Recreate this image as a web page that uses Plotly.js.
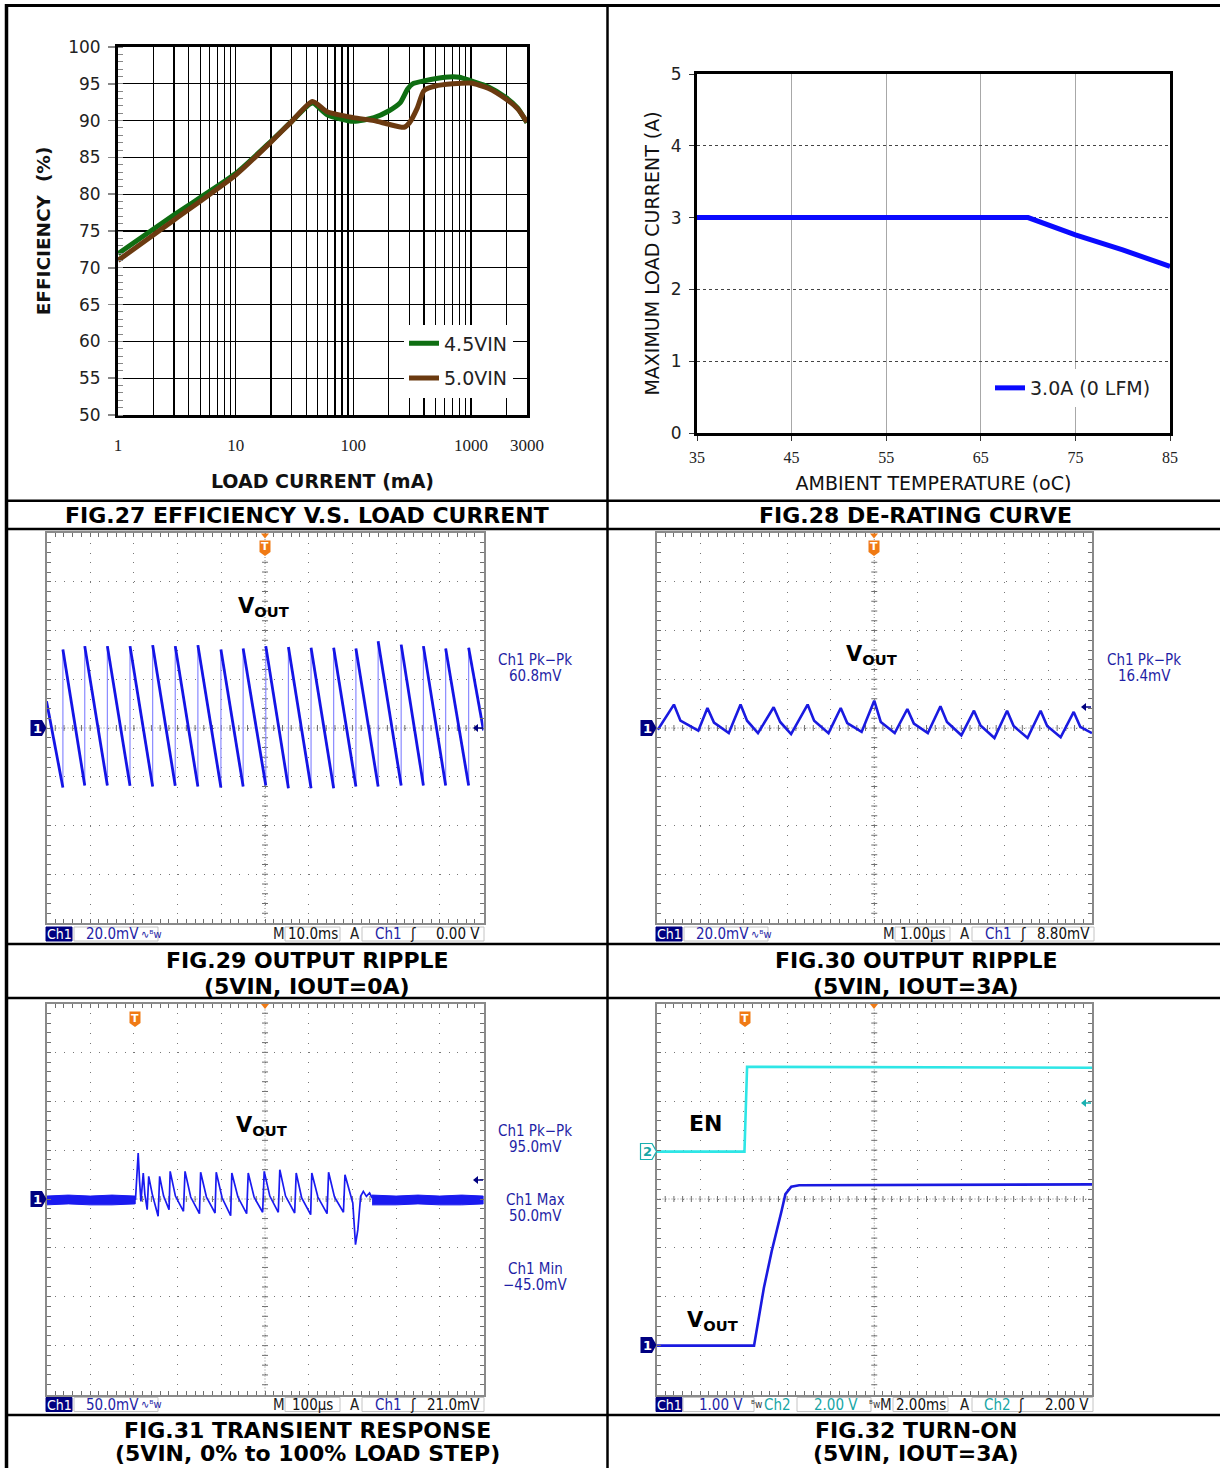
<!DOCTYPE html>
<html><head><meta charset="utf-8">
<script src="https://cdn.plot.ly/plotly-3.0.1.min.js"></script>
<style>html,body{margin:0;padding:0;background:#fff}#chart{width:1220px;height:1468px}</style>
</head><body><div id="chart"></div>
<script>
// ================= DATA =================
// FIG.27 efficiency vs load current
const loadA = [1, 3, 10, 20, 30, 45, 60, 100, 150, 200, 250, 290, 320, 400, 600, 800, 1000, 1400, 2000, 2500, 3000];
const effA  = [71.9, 77.2, 82.8, 87.2, 89.9, 92.4, 90.8, 89.9, 90.4, 91.3, 92.4, 94.3, 95.0, 95.4, 95.9, 95.9, 95.4, 94.6, 93.1, 91.7, 89.7];
const loadB = [1, 3, 10, 20, 30, 45, 60, 100, 150, 200, 270, 300, 350, 400, 500, 700, 1000, 1400, 2000, 2500, 3000];
const effB  = [71.0, 76.5, 82.6, 87.1, 89.9, 92.6, 91.2, 90.4, 90.0, 89.5, 89.1, 89.7, 91.7, 94.1, 94.7, 95.0, 95.1, 94.4, 92.9, 91.6, 89.8];
const effNames = ['4.5VIN', '5.0VIN'];
const effTickVals = [1, 10, 100, 1000, 3000];
const effTickLabels = ['1', '10', '100', '1000', '3000'];
const effMinorGrid = [2,3,4,5,6,7,8,9,20,30,40,50,60,70,80,90,200,300,400,500,600,700,800,900,2000];

// FIG.28 de-rating
const tempC = [35, 70, 75, 80, 85];
const maxLoad = [3.0, 3.0, 2.76, 2.55, 2.32];
const derateName = '3.0A (0 LFM)';

// FIG.29 ripple 0A (ms, mV)
const f29JumpT = [-46.25, -41.25, -36.07, -30.89, -25.71, -20.54, -15.36, -10.09, -5.0, 0.18, 5.36, 10.54, 15.71, 20.8, 25.89, 31.16, 36.25, 41.34, 46.6];
const f29PeakV = [32.2, 33.6, 33.6, 33.6, 34.0, 33.6, 34.0, 32.2, 32.6, 33.6, 33.2, 32.9, 32.9, 32.6, 35.6, 34.2, 33.6, 32.6, 32.9];
const f29TroughV = [-24.4, -23.6, -23.6, -23.7, -24.0, -23.7, -24.0, -24.4, -24.0, -23.6, -24.7, -24.7, -24.7, -24.0, -24.0, -23.6, -23.6, -23.6, -23.6];
const f29EdgeV = [11, -1];

// FIG.30 ripple 3A (us, mV)
const f30TroughT = [-4.97, -4.04, -3.34, -2.67, -1.91, -1.05, -0.29, 0.47, 1.23, 2.00, 2.76, 3.52, 4.28, 5.0];
const f30TroughV = [-0.7, -1.1, -2.1, -2.1, -2.5, -2.1, -1.6, -2.1, -2.1, -3.0, -4.1, -4.1, -3.8, -2.1];
const f30PeakT = [-4.60, -3.83, -3.07, -2.31, -1.53, -0.77, 0.00, 0.76, 1.52, 2.29, 3.05, 3.82, 4.58];
const f30PeakV = [9.6, 8.2, 9.6, 8.5, 9.6, 8.2, 11.2, 7.8, 8.9, 7.1, 7.1, 7.1, 6.6];
const f30ShoulderT = [-4.45, -3.68, -2.92, -2.16, -1.38, -0.62, 0.15, 0.91, 1.67, 2.44, 3.20, 3.97, 4.73];
const f30ShoulderV = [3.0, 2.2, 3.0, 2.5, 3.0, 2.0, 2.5, 1.8, 2.5, 1.0, 0.8, 0.8, 0.5];

// FIG.31 transient (us, mV)
const f31PreT = [-500, -450, -400, -350, -297];
const f31PreHi = [3, 4, 3, 4, 3];
const f31PreLo = [-6, -5, -6, -6, -5];
const f31PostT = [245, 300, 350, 400, 450, 500];
const f31PostHi = [4, 3, 4, 3, 4, 3];
const f31PostLo = [-6, -6, -5, -6, -6, -5];
const f31T = [-296.4, -293, -290.2, -287, -283.9, -278.6, -275, -269.6, -266.1, -258, -244.6, -241.1, -232, -219.6, -217.0, -205, -186.6, -183.0, -170, -150.0, -147.3, -134, -114.3, -111.6, -98, -78.6, -75.9, -62, -42.0, -38.4, -25, -5.4, -1.8, 11, 30.4, 33.9, 47, 67.9, 71.4, 84, 104.5, 107.1, 121, 142.0, 145.5, 159, 179.5, 183.0, 196.4, 200.9, 207.1, 212.5, 218.8, 225.0, 232.1, 239.3, 245.5];
const f31V = [-1, 20, 47, 18, -2.4, 26.6, 5, -10.9, 23.2, 5, -17.7, 23.2, 3, -10.9, 28.3, 3, -12.6, 28.3, 2, -15.0, 27.3, 2, -14.3, 27.3, 1, -17.1, 26.6, 2, -15.0, 26.6, 2, -13.6, 28.3, 3, -13.6, 30.0, 3, -14.3, 26.6, 1, -16.0, 26.6, 2, -15.0, 27.3, 2, -13.6, 24.9, 2.7, -4.1, -46.7, -31.4, 2.7, 7.8, 2.7, 6.1, 1.0];

// FIG.32 turn-on (ms, V)
const f32EnT = [-10, -5.96, -5.84, 0, 10];
const f32EnV = [0.0, 0.0, 3.47, 3.45, 3.43];
const f32VoutT = [-10, -5.52, -5.07, -4.71, -4.26, -4.08, -3.81, -3.45, 10];
const f32VoutV = [0, 0, 1.18, 1.93, 2.75, 3.10, 3.25, 3.28, 3.30];

// ================= HELPERS =================
const W = 1220, H = 1468;
const px = x => x / W;
const py = y => 1 - y / H;
const SANS = 'DejaVu Sans, Verdana, sans-serif';
const SERIF = 'Liberation Serif, Times New Roman, serif';
const SCOPE = 'DejaVu Sans Condensed, Liberation Sans Narrow, DejaVu Sans, sans-serif';
const BLUE_TXT = '#1f1fa6', CYAN_TXT = '#17a6a6', NAVY = '#000080', ORANGE = '#f07a14';

const ann = [], shp = [];
function T(x, y, text, o = {}) {
  ann.push({xref: 'paper', yref: 'paper', x: px(x), y: py(y), text, showarrow: false,
    xanchor: o.xa || 'center', yanchor: o.ya || 'middle',
    font: {family: o.family || SCOPE, size: o.size || 15, color: o.color || '#111'}});
}
function R(x0, y0, x1, y1, fill, line, lw) {
  shp.push({type: 'rect', xref: 'paper', yref: 'paper', x0: px(x0), x1: px(x1), y0: py(y0), y1: py(y1),
    fillcolor: fill, line: {color: line || fill, width: lw == null ? 1 : lw}, layer: 'above'});
}
function L(x0, y0, x1, y1, color, w, dash, layer) {
  shp.push({type: 'line', xref: 'paper', yref: 'paper', x0: px(x0), y0: py(y0), x1: px(x1), y1: py(y1),
    line: {color, width: w, dash: dash || 'solid'}, layer: layer || 'above'});
}
function P(pts, fill, line, lw) {
  const d = pts.map((p, i) => (i ? 'L' : 'M') + px(p[0]) + ',' + py(p[1])).join('') + 'Z';
  shp.push({type: 'path', xref: 'paper', yref: 'paper', path: d, fillcolor: fill,
    line: {color: line || fill, width: lw || 0}, layer: 'above'});
}

// ================= TRACES =================
const traces = [];
traces.push({x: loadA, y: effA, name: effNames[0], mode: 'lines', line: {color: '#0f6e12', width: 5, shape: 'spline', smoothing: 0.6},
  xaxis: 'x', yaxis: 'y', legend: 'legend', legendgroup: 'a', hoverinfo: 'skip'});
traces.push({x: loadB, y: effB, name: effNames[1], mode: 'lines', line: {color: '#6b3a10', width: 5, shape: 'spline', smoothing: 0.6},
  xaxis: 'x', yaxis: 'y', legend: 'legend', legendgroup: 'b', hoverinfo: 'skip'});
traces.push({x: tempC, y: maxLoad, name: derateName, mode: 'lines', line: {color: '#0a0aff', width: 5},
  xaxis: 'x2', yaxis: 'y2', legend: 'legend2', hoverinfo: 'skip'});

// FIG.29
(function () {
  const n = f29JumpT.length;
  const dx = [-50, f29JumpT[0], null], dy = [f29EdgeV[0], f29TroughV[0], null];
  const rx = [], ry = [];
  for (let i = 0; i < n; i++) {
    dx.push(f29JumpT[i], i + 1 < n ? f29JumpT[i + 1] : 50, null);
    dy.push(f29PeakV[i], i + 1 < n ? f29TroughV[i + 1] : f29EdgeV[1], null);
    rx.push(f29JumpT[i], f29JumpT[i], null);
    ry.push(f29TroughV[i], f29PeakV[i], null);
  }
  traces.push({x: rx, y: ry, mode: 'lines', line: {color: '#8a8aff', width: 1.2}, xaxis: 'x3', yaxis: 'y3', showlegend: false, hoverinfo: 'skip'});
  traces.push({x: dx, y: dy, mode: 'lines', line: {color: '#1414e6', width: 2.8}, xaxis: 'x3', yaxis: 'y3', showlegend: false, hoverinfo: 'skip', connectgaps: false});
})();

// FIG.30
(function () {
  const x = [], y = [];
  for (let i = 0; i < f30PeakT.length; i++) {
    x.push(f30TroughT[i], f30PeakT[i], f30ShoulderT[i]);
    y.push(f30TroughV[i], f30PeakV[i], f30ShoulderV[i]);
  }
  x.push(f30TroughT[f30TroughT.length - 1]); y.push(f30TroughV[f30TroughV.length - 1]);
  traces.push({x, y, mode: 'lines', line: {color: '#1a1ae0', width: 2.6}, xaxis: 'x4', yaxis: 'y4', showlegend: false, hoverinfo: 'skip'});
})();

// FIG.31
(function () {
  const band = (t, hi, lo) => ({x: t.concat(t.slice().reverse()), y: hi.concat(lo.slice().reverse()),
    mode: 'lines', fill: 'toself', fillcolor: '#1a1af0', line: {color: '#1a1af0', width: 1},
    xaxis: 'x5', yaxis: 'y5', showlegend: false, hoverinfo: 'skip'});
  traces.push(band(f31PreT, f31PreHi, f31PreLo));
  traces.push(band(f31PostT, f31PostHi, f31PostLo));
  traces.push({x: f31T, y: f31V, mode: 'lines', line: {color: '#1a1af0', width: 1.7}, xaxis: 'x5', yaxis: 'y5', showlegend: false, hoverinfo: 'skip'});
})();

// FIG.32
traces.push({x: f32EnT, y: f32EnV, mode: 'lines', line: {color: '#2ee6e6', width: 2.6}, xaxis: 'x6', yaxis: 'y7', showlegend: false, hoverinfo: 'skip'});
traces.push({x: f32VoutT, y: f32VoutV, mode: 'lines', line: {color: '#1a1ae0', width: 2.6}, xaxis: 'x6', yaxis: 'y6', showlegend: false, hoverinfo: 'skip'});

// ================= LAYOUT =================
const layout = {
  width: W, height: H, margin: {l: 0, r: 0, t: 0, b: 0},
  paper_bgcolor: '#fff', plot_bgcolor: 'rgba(0,0,0,0)',
  font: {family: SANS, color: '#111'},
  showlegend: true,
  legend: {x: px(404), y: py(361), xanchor: 'left', yanchor: 'middle', bgcolor: '#fff', borderwidth: 0,
    font: {family: SANS, size: 19, color: '#222'}, tracegroupgap: 7, itemclick: false, itemdoubleclick: false},
  legend2: {x: px(990), y: py(388), xanchor: 'left', yanchor: 'middle', bgcolor: '#fff', borderwidth: 0,
    font: {family: SANS, size: 19, color: '#222'}, itemclick: false, itemdoubleclick: false},
  xaxis: {domain: [px(118), px(527)], anchor: 'y', type: 'log', range: [0, Math.log10(3000)],
    tickmode: 'array', tickvals: effTickVals, ticktext: effTickLabels,
    minor: {tickmode: 'array', tickvals: effMinorGrid, showgrid: true, gridcolor: '#000', gridwidth: 1.3, ticks: ''},
    showgrid: true, gridcolor: '#000', gridwidth: 1.3, ticks: '', ticklabelstandoff: 13,
    tickfont: {family: SERIF, size: 17, color: '#222'},
    showline: true, linecolor: '#000', linewidth: 3, mirror: true, zeroline: false,
    title: {text: '<b>LOAD CURRENT (mA)</b>', font: {family: SANS, size: 19, color: '#111'}, standoff: 21}},
  yaxis: {domain: [py(415), py(47)], anchor: 'x', range: [50, 100], tick0: 50, dtick: 5,
    ticks: 'outside', ticklen: 7, tickcolor: '#888', tickwidth: 1.5,
    minor: {ticks: 'inside', ticklen: 5, dtick: 1, tickcolor: '#888', tickwidth: 1, showgrid: false},
    showgrid: true, gridcolor: '#000', gridwidth: 1.3, zeroline: false,
    showline: true, linecolor: '#000', linewidth: 3, mirror: true,
    tickfont: {family: SANS, size: 17, color: '#222'}, ticklabelstandoff: 4,
    title: {text: '<b>EFFICIENCY  (%)</b>', font: {family: SANS, size: 18.5, color: '#111'}, standoff: 13}},
  xaxis2: {domain: [px(697), px(1170)], anchor: 'y2', range: [35, 85], tick0: 35, dtick: 10,
    ticks: 'outside', ticklen: 5, tickcolor: '#333', showgrid: true, gridcolor: '#a8a8a8', gridwidth: 1,
    showline: true, linecolor: '#000', linewidth: 3, mirror: true, zeroline: false,
    tickfont: {family: SERIF, size: 16, color: '#222'}, ticklabelstandoff: 3,
    title: {text: 'AMBIENT TEMPERATURE (oC)', font: {family: SANS, size: 19, color: '#111'}, standoff: 12}},
  yaxis2: {domain: [py(433), py(74)], anchor: 'x2', range: [0, 5], dtick: 1,
    ticks: 'outside', ticklen: 5, tickcolor: '#333', showgrid: true, gridcolor: '#444', griddash: 'dot', gridwidth: 1,
    showline: true, linecolor: '#000', linewidth: 3, mirror: true, zeroline: false,
    tickfont: {family: SANS, size: 17, color: '#222'}, ticklabelstandoff: 4,
    title: {text: 'MAXIMUM LOAD CURRENT (A)', font: {family: SANS, size: 19, color: '#111'}, standoff: 7}},
  annotations: ann, shapes: shp
};

const scopes = [
  {id: 3, box: [46.5, 533, 483.5, 923], xr: [-50, 50], xd: 10, yr: [-80, 80], yd: 20},
  {id: 4, box: [656.5, 533, 1092, 923], xr: [-5, 5], xd: 1, yr: [-80, 80], yd: 20},
  {id: 5, box: [46.5, 1003.5, 483.5, 1394.5], xr: [-500, 500], xd: 100, yr: [-200, 200], yd: 50},
  {id: 6, box: [656.5, 1003.5, 1092, 1394.5], xr: [-10, 10], xd: 2, yr: [-1, 7], yd: 1}
];
scopes.forEach(s => {
  const [x0, y0, x1, y1] = s.box;
  const common = {showticklabels: false, ticks: 'inside', ticklen: 4, tickcolor: '#6e6e6e', tickwidth: 1,
    showline: true, linecolor: '#8a8a8a', linewidth: 2, mirror: 'allticks', zeroline: false,
    showgrid: true, gridcolor: '#777', gridwidth: 1};
  layout['xaxis' + s.id] = Object.assign({}, common, {domain: [px(x0), px(x1)], anchor: 'y' + s.id,
    range: s.xr, tick0: s.xr[0], dtick: s.xd, griddash: '1px,8.75px',
    minor: {ticks: 'inside', ticklen: 4, dtick: s.xd / 5, tickcolor: '#6e6e6e', tickwidth: 1}});
  layout['yaxis' + s.id] = Object.assign({}, common, {domain: [py(y1), py(y0)], anchor: 'x' + s.id,
    range: s.yr, tick0: s.yr[0], dtick: s.yd, griddash: '1px,7.74px',
    minor: {ticks: 'inside', ticklen: 4, dtick: s.yd / 5, tickcolor: '#6e6e6e', tickwidth: 1}});
  const cx = (x0 + x1) / 2, cy = (y0 + y1) / 2, dx = (x1 - x0) / 50, dy = (y1 - y0) / 40;
  let d = '';
  for (let i = 1; i < 50; i++) { const x = x0 + i * dx; d += `M${px(x)},${py(cy - 3)}L${px(x)},${py(cy + 3)}`; }
  for (let j = 1; j < 40; j++) { const y = y0 + j * dy; d += `M${px(cx - 3)},${py(y)}L${px(cx + 3)},${py(y)}`; }
  shp.push({type: 'path', xref: 'paper', yref: 'paper', path: d, line: {color: '#6e6e6e', width: 1}, layer: 'below'});
  L(x0, cy, x1, cy, '#8a8a8a', 1, '1px,2px', 'below');
  L(cx, y0, cx, y1, '#8a8a8a', 1, '1px,2px', 'below');
});
layout.yaxis7 = {overlaying: 'y6', anchor: 'x6', range: [-9.94, 6.06], showgrid: false, showticklabels: false,
  ticks: '', zeroline: false, showline: false};

// ================= TABLE =================
L(5, 5.5, 1220, 5.5, '#000', 3);
L(6.5, 4, 6.5, 1468, '#000', 3.5);
L(607.5, 5, 607.5, 1468, '#000', 2.5);
[500.7, 529, 944, 998, 1415].forEach(y => L(5, y, 1220, y, '#000', 2.5));

// captions
function cap(x, y, text) { T(x, y, '<b>' + text + '</b>', {family: SANS, size: 22, color: '#000'}); }
cap(307, 515, 'FIG.27 EFFICIENCY V.S. LOAD CURRENT');
cap(915, 515, 'FIG.28 DE-RATING CURVE');
cap(307, 960, 'FIG.29 OUTPUT RIPPLE'); cap(307, 986, '(5VIN, IOUT=0A)');
cap(916, 960, 'FIG.30 OUTPUT RIPPLE'); cap(916, 986, '(5VIN, IOUT=3A)');
cap(307, 1430, 'FIG.31 TRANSIENT RESPONSE'); cap(307, 1453, '(5VIN, 0% to 100% LOAD STEP)');
cap(916, 1430, 'FIG.32 TURN-ON'); cap(916, 1453, '(5VIN, IOUT=3A)');

// ================= SCOPE DECORATIONS =================
function trigT(x, y) {
  P([[x - 5.5, y - 7.5], [x + 5.5, y - 7.5], [x + 5.5, y + 4], [x, y + 8], [x - 5.5, y + 4]], ORANGE);
  T(x, y - 1, '<b>T</b>', {family: SANS, size: 11, color: '#fff'});
}
function trigTop(x, y) { P([[x - 4, y], [x + 4, y], [x, y + 5]], ORANGE); }
function chMark(y, label, fill, line, txt, xr) {
  P([[xr - 16, y - 8], [xr - 4.5, y - 8], [xr, y], [xr - 4.5, y + 8], [xr - 16, y + 8]], fill, line, line ? 1.2 : 0);
  T(xr - 9.5, y, '<b>' + label + '</b>', {family: SANS, size: 13, color: txt});
}
function lvlArrow(x, y, color) {
  P([[x - 4, y], [x + 1, y - 4], [x + 1, y + 4]], color);
  L(x, y, x + 6, y, color, 1.5);
}
function vout(x, y) { T(x, y, '<b>V<sub>OUT</sub></b>', {family: SANS, size: 21, color: '#000'}); }
function statusBox(x0, x1, yc) { R(x0, yc - 7, x1, yc + 7, '#fff', '#c4c4c4', 1); }
function status(ox, yc, vdiv, tdiv, trigSrc, trigLvl) {
  R(ox + 46, yc - 7, ox + 72, yc + 7, NAVY);
  T(ox + 59, yc, 'Ch1', {color: '#fff', size: 14});
  statusBox(ox + 74, ox + 158, yc);
  T(ox + 84, yc, vdiv, {xa: 'left', color: BLUE_TXT});
  T(ox + 139, yc, '∿ᴮw', {xa: 'left', size: 11, color: BLUE_TXT});
  T(ox + 279, yc, 'M', {color: '#222'});
  statusBox(ox + 285, ox + 340, yc);
  T(ox + 312.5, yc, tdiv, {color: '#111'});
  T(ox + 355, yc, 'A', {color: '#222'});
  statusBox(ox + 362, ox + 484, yc);
  T(ox + 388, yc, trigSrc, {color: BLUE_TXT});
  T(ox + 413, yc, 'ʃ', {color: '#111'});
  T(ox + 482, yc, trigLvl, {xa: 'right', color: '#111'});
}
function meas(x, y, a, b) { T(x, y, a, {color: BLUE_TXT}); T(x, y + 16, b, {color: BLUE_TXT}); }

// FIG.29
trigTop(265, 533.5); trigT(265, 548);
chMark(728, '1', NAVY, null, '#fff', 46.5);
lvlArrow(477, 728, NAVY);
vout(263, 607);
meas(535, 660, 'Ch1 Pk−Pk', '60.8mV');
status(0, 934, '20.0mV', '10.0ms', 'Ch1', '0.00 V');

// FIG.30
trigTop(874, 533.5); trigT(874, 548);
chMark(728, '1', NAVY, null, '#fff', 656.5);
lvlArrow(1085, 707, NAVY);
vout(871, 655);
meas(1144, 660, 'Ch1 Pk−Pk', '16.4mV');
status(610, 934, '20.0mV', '1.00µs', 'Ch1', '8.80mV');

// FIG.31
trigTop(265, 1004); trigT(135, 1019);
chMark(1199, '1', NAVY, null, '#fff', 46.5);
lvlArrow(477, 1180, NAVY);
vout(261, 1126);
meas(535, 1131, 'Ch1 Pk−Pk', '95.0mV');
meas(535, 1200, 'Ch1 Max', '50.0mV');
meas(535, 1269, 'Ch1 Min', '−45.0mV');
status(0, 1404.5, '50.0mV', '100µs', 'Ch1', '21.0mV');

// FIG.32
trigTop(874, 1004); trigT(745, 1019);
chMark(1151.5, '2', '#fff', '#18b0b0', CYAN_TXT, 656.5);
chMark(1345, '1', NAVY, null, '#fff', 656.5);
lvlArrow(1085, 1103, '#18b0b0');
T(705, 1123, '<b>EN</b>', {family: SANS, size: 22, color: '#000'});
vout(712, 1321);
(function () {
  const yc = 1404.5;
  R(656, yc - 7, 682, yc + 7, NAVY); T(669, yc, 'Ch1', {color: '#fff', size: 14});
  statusBox(683, 754, yc); T(721, yc, '1.00 V', {color: BLUE_TXT});
  T(757, yc, 'ᴮw', {size: 10, color: '#333'});
  T(778, yc, 'Ch2', {color: CYAN_TXT});
  statusBox(797, 871, yc); T(836, yc, '2.00 V', {color: CYAN_TXT});
  T(874, yc, 'ᴮw', {size: 10, color: '#333'});
  T(886, yc, 'M', {color: '#222'});
  statusBox(893, 948, yc); T(921, yc, '2.00ms', {color: '#111'});
  T(965, yc, 'A', {color: '#222'});
  statusBox(972, 1093, yc);
  T(997, yc, 'Ch2', {color: CYAN_TXT});
  T(1021, yc, 'ʃ', {color: '#111'});
  T(1091, yc, '2.00 V', {xa: 'right', color: '#111'});
})();

Plotly.newPlot('chart', traces, layout, {displayModeBar: false, staticPlot: true});
</script>
</body></html>
